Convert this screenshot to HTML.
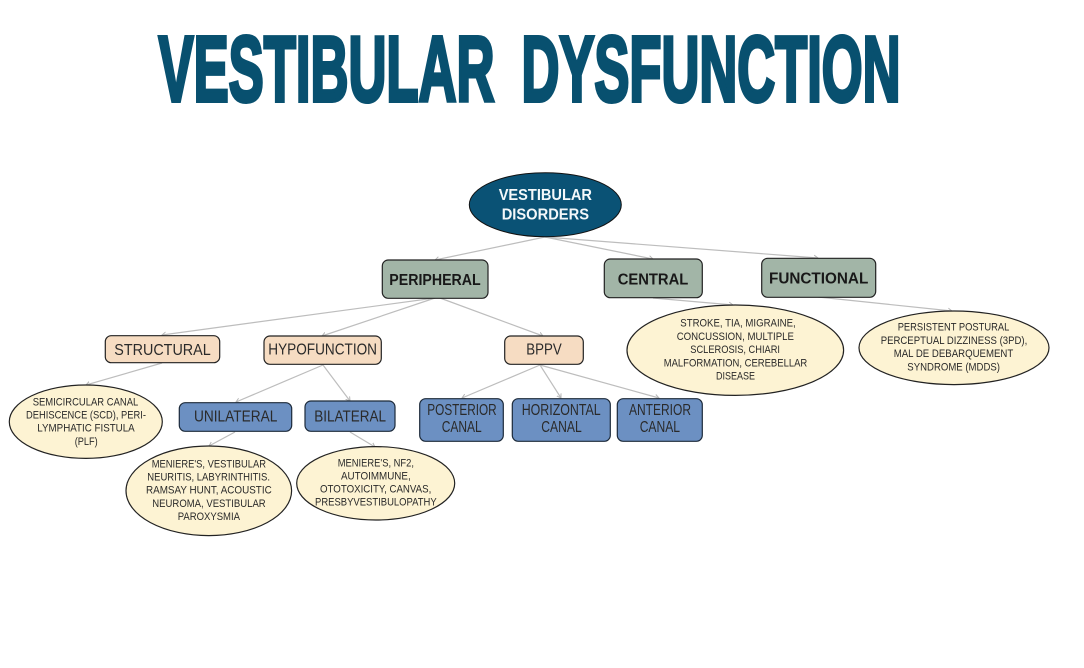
<!DOCTYPE html>
<html><head><meta charset="utf-8"><style>
html,body{margin:0;padding:0;background:#fff;width:1084px;height:668px;overflow:hidden}
svg{display:block}
text{font-family:"Liberation Sans",sans-serif;fill:#2a2a2a}
.t{font-size:93px;font-weight:bold;fill:#08506f;stroke:#08506f;stroke-width:4;stroke-linejoin:miter}
.s{font-size:11px}
.m{font-size:15.5px}
.b{font-size:16px;font-weight:bold;fill:#181818}
.n{fill:#a2b5a7;stroke:#222;stroke-width:1.2}
.p{fill:#f6dcc2;stroke:#222;stroke-width:1.2}
.u{fill:#6c90c2;stroke:#1c2a3a;stroke-width:1.2}
.e{fill:#fdf3d3;stroke:#222;stroke-width:1.2}
.l{stroke:#bdbdbd;stroke-width:1.2;fill:none;marker-end:url(#a)}
</style></head><body>
<svg width="1084" height="668" viewBox="0 0 1084 668" xmlns="http://www.w3.org/2000/svg">
<defs><marker id="a" markerUnits="userSpaceOnUse" markerWidth="8" markerHeight="8" refX="4" refY="3" orient="auto"><path d="M0 0.5L4 3L0 5.5" fill="none" stroke="#b5b5b5" stroke-width="1"/></marker></defs>
<rect width="1084" height="668" fill="#fff"/>
<text class="t" x="158.5" y="101" textLength="336" lengthAdjust="spacingAndGlyphs">VESTIBULAR</text>
<text class="t" x="521.5" y="101" textLength="379" lengthAdjust="spacingAndGlyphs">DYSFUNCTION</text>

<path class="l" d="M545 237L435 260"/><path class="l" d="M545 237L653 259"/><path class="l" d="M545 237L818 258"/>
<path class="l" d="M435 298L162 335"/><path class="l" d="M435 298L322 336"/><path class="l" d="M440 298L543 336"/>
<path class="l" d="M653 298L733 305"/><path class="l" d="M818 297L952 311"/>
<path class="l" d="M162 363L86 385"/>
<path class="l" d="M323 365L236 402"/><path class="l" d="M323 365L350 401"/>
<path class="l" d="M540 365L462 398"/><path class="l" d="M540 365L561 398"/><path class="l" d="M540 365L659 398"/>
<path class="l" d="M235 432L209 446"/><path class="l" d="M350 432L375 447"/>

<ellipse cx="545.3" cy="204.7" rx="76" ry="32" fill="#0a5275" stroke="#111" stroke-width="1"/>
<text x="498.7" y="200" textLength="93.3" lengthAdjust="spacingAndGlyphs" style="font-size:15.5px;font-weight:bold;fill:#f4f8fa">VESTIBULAR</text>
<text x="501.7" y="219.3" textLength="87.3" lengthAdjust="spacingAndGlyphs" style="font-size:15.5px;font-weight:bold;fill:#f4f8fa">DISORDERS</text>

<rect class="n" x="382.3" y="260" width="105.7" height="38.3" rx="6"/>
<text class="b" x="389.3" y="285" textLength="91.4" lengthAdjust="spacingAndGlyphs">PERIPHERAL</text>
<rect class="n" x="604.3" y="259" width="98" height="38.7" rx="6"/>
<text class="b" x="617.7" y="284.3" textLength="70.6" lengthAdjust="spacingAndGlyphs">CENTRAL</text>
<rect class="n" x="761.7" y="258.3" width="114" height="39" rx="6"/>
<text class="b" x="769" y="283.3" textLength="99.3" lengthAdjust="spacingAndGlyphs">FUNCTIONAL</text>

<rect class="p" x="105.3" y="335.7" width="114.4" height="27" rx="6"/>
<text class="m" x="114.3" y="355" textLength="96.4" lengthAdjust="spacingAndGlyphs">STRUCTURAL</text>
<rect class="p" x="264" y="336" width="117.3" height="28.3" rx="6"/>
<text class="m" x="268.3" y="354.3" textLength="108.7" lengthAdjust="spacingAndGlyphs">HYPOFUNCTION</text>
<rect class="p" x="504.7" y="336" width="78.6" height="28.3" rx="6"/>
<text class="m" x="526.3" y="354.3" textLength="35.4" lengthAdjust="spacingAndGlyphs">BPPV</text>

<rect class="u" x="179.3" y="402.7" width="112.4" height="28.6" rx="6"/>
<text class="m" x="194" y="421.3" textLength="83.3" lengthAdjust="spacingAndGlyphs">UNILATERAL</text>
<rect class="u" x="305" y="401" width="90" height="30.3" rx="6"/>
<text class="m" x="314.3" y="421.3" textLength="71.7" lengthAdjust="spacingAndGlyphs">BILATERAL</text>

<rect class="u" x="419.7" y="398.7" width="83.6" height="42.6" rx="6"/>
<text class="m" x="427.3" y="415" textLength="69.4" lengthAdjust="spacingAndGlyphs">POSTERIOR</text>
<text class="m" x="441.7" y="432" textLength="40" lengthAdjust="spacingAndGlyphs">CANAL</text>
<rect class="u" x="512.3" y="398.7" width="98" height="42.6" rx="6"/>
<text class="m" x="521.7" y="415" textLength="79" lengthAdjust="spacingAndGlyphs">HORIZONTAL</text>
<text class="m" x="541.3" y="432" textLength="40.4" lengthAdjust="spacingAndGlyphs">CANAL</text>
<rect class="u" x="617.3" y="398.7" width="85" height="42.6" rx="6"/>
<text class="m" x="629" y="415" textLength="62" lengthAdjust="spacingAndGlyphs">ANTERIOR</text>
<text class="m" x="639.7" y="432" textLength="40.3" lengthAdjust="spacingAndGlyphs">CANAL</text>

<ellipse class="e" cx="85.8" cy="421.7" rx="76.5" ry="36.7"/>
<text class="s" x="32.7" y="405.7" textLength="105.6" lengthAdjust="spacingAndGlyphs">SEMICIRCULAR CANAL</text>
<text class="s" x="26" y="418.3" textLength="120" lengthAdjust="spacingAndGlyphs">DEHISCENCE (SCD), PERI-</text>
<text class="s" x="37.3" y="431.7" textLength="97.4" lengthAdjust="spacingAndGlyphs">LYMPHATIC FISTULA</text>
<text class="s" x="74.7" y="445" textLength="23" lengthAdjust="spacingAndGlyphs">(PLF)</text>

<ellipse class="e" cx="208.8" cy="490.8" rx="82.8" ry="44.8"/>
<text class="s" x="151.7" y="467.3" textLength="114.3" lengthAdjust="spacingAndGlyphs">MENIERE'S, VESTIBULAR</text>
<text class="s" x="147.3" y="480.7" textLength="122.7" lengthAdjust="spacingAndGlyphs">NEURITIS, LABYRINTHITIS.</text>
<text class="s" x="146" y="493.7" textLength="125.7" lengthAdjust="spacingAndGlyphs">RAMSAY HUNT, ACOUSTIC</text>
<text class="s" x="152.3" y="507" textLength="113.4" lengthAdjust="spacingAndGlyphs">NEUROMA, VESTIBULAR</text>
<text class="s" x="177.7" y="520" textLength="62.3" lengthAdjust="spacingAndGlyphs">PAROXYSMIA</text>

<ellipse class="e" cx="375.7" cy="483.3" rx="79" ry="36.7"/>
<text class="s" x="337.7" y="466.3" textLength="76.3" lengthAdjust="spacingAndGlyphs">MENIERE'S, NF2,</text>
<text class="s" x="341" y="479.3" textLength="69.7" lengthAdjust="spacingAndGlyphs">AUTOIMMUNE,</text>
<text class="s" x="320" y="492.7" textLength="111.3" lengthAdjust="spacingAndGlyphs">OTOTOXICITY, CANVAS,</text>
<text class="s" x="315" y="505.7" textLength="121.7" lengthAdjust="spacingAndGlyphs">PRESBYVESTIBULOPATHY</text>

<ellipse class="e" cx="735.3" cy="350.2" rx="108.3" ry="45.2"/>
<text class="s" x="680.3" y="326.7" textLength="115.4" lengthAdjust="spacingAndGlyphs">STROKE, TIA, MIGRAINE,</text>
<text class="s" x="676.7" y="340" textLength="117.3" lengthAdjust="spacingAndGlyphs">CONCUSSION, MULTIPLE</text>
<text class="s" x="690.3" y="353" textLength="89.7" lengthAdjust="spacingAndGlyphs">SCLEROSIS, CHIARI</text>
<text class="s" x="663.7" y="366.3" textLength="143.6" lengthAdjust="spacingAndGlyphs">MALFORMATION, CEREBELLAR</text>
<text class="s" x="716" y="379.7" textLength="39" lengthAdjust="spacingAndGlyphs">DISEASE</text>

<ellipse class="e" cx="954" cy="347.8" rx="95" ry="36.8"/>
<text class="s" x="897.7" y="330.7" textLength="111.6" lengthAdjust="spacingAndGlyphs">PERSISTENT POSTURAL</text>
<text class="s" x="880.7" y="344" textLength="146.6" lengthAdjust="spacingAndGlyphs">PERCEPTUAL DIZZINESS (3PD),</text>
<text class="s" x="893.7" y="357" textLength="119.6" lengthAdjust="spacingAndGlyphs">MAL DE DEBARQUEMENT</text>
<text class="s" x="907.3" y="370.7" textLength="92.7" lengthAdjust="spacingAndGlyphs">SYNDROME (MDDS)</text>
</svg>
</body></html>
